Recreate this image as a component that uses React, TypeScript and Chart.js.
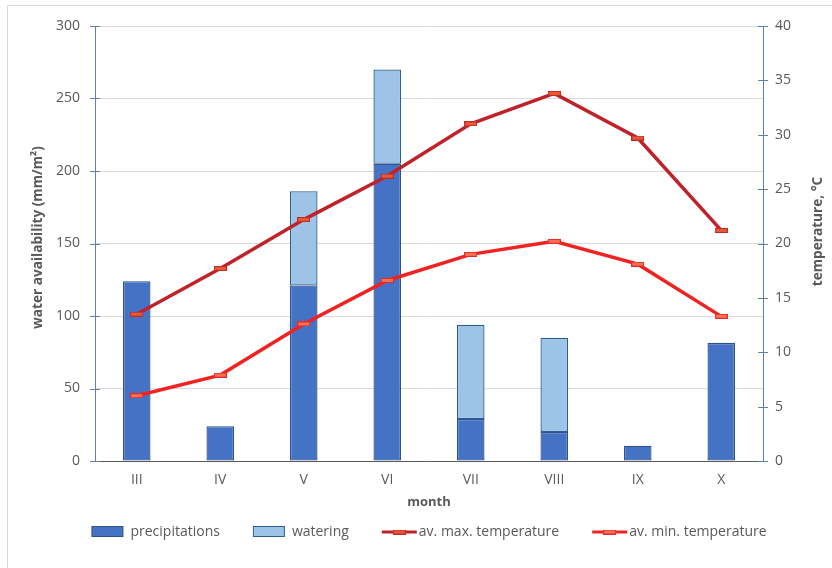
import React, { useEffect, useRef } from "react";
import { Chart, registerables } from "chart.js";

Chart.register(...registerables);

const months = ["III", "IV", "V", "VI", "VII", "VIII", "IX", "X"];
const precipitations = [124, 24, 121, 205, 29, 20, 10.5, 81.5];
const watering = [null, null, 65, 65, 65, 65, null, null];
const maxTemperature = [13.5, 17.7, 22.2, 26.2, 31.0, 33.8, 29.7, 21.2];
const minTemperature = [6.0, 7.9, 12.6, 16.6, 19.0, 20.2, 18.1, 13.3];

const leftTitle = "water availability (mm/m²)";
const rightTitle = "temperature, °C";
const xTitle = "month";

const FONT = "'Open Sans', 'Noto Sans', sans-serif";
const TEXT = "#595959";
const AXIS_BLUE = "#5B82B0";
const GRID = "#D9D9D9";

function makeMarker(fill: string, stroke: string) {
  const c = document.createElement("canvas");
  c.width = 13;
  c.height = 5;
  const g = c.getContext("2d")!;
  g.fillStyle = fill;
  g.fillRect(0.5, 0.5, 12, 4);
  g.strokeStyle = stroke;
  g.lineWidth = 1;
  g.strokeRect(0.5, 0.5, 12, 4);
  return c;
}

function titleFont(ctx: CanvasRenderingContext2D) {
  ctx.font = `bold 12px ${FONT}`;
  const w = ctx.measureText(leftTitle).width;
  const size = (12 * 183) / w;
  return `bold ${size.toFixed(2)}px ${FONT}`;
}

const decor = {
  id: "decor",
  beforeDraw(chart: any) {
    const { ctx } = chart;
    ctx.save();
    ctx.fillStyle = "#ffffff";
    ctx.fillRect(0, 0, chart.width, chart.height);
    ctx.strokeStyle = GRID;
    ctx.lineWidth = 1;
    ctx.strokeRect(7.5, 5.5, chart.width + 20, chart.height + 20);
    ctx.restore();
  },
  afterDraw(chart: any) {
    const { ctx, chartArea, scales } = chart;
    ctx.save();
    // crossing tick marks
    ctx.strokeStyle = AXIS_BLUE;
    ctx.lineWidth = 1;
    const ys = scales.y;
    ys.ticks.forEach((_: any, i: number) => {
      const py = Math.round(ys.getPixelForTick(i)) + 0.5;
      ctx.beginPath();
      ctx.moveTo(chartArea.left - 5, py);
      ctx.lineTo(chartArea.left + 5, py);
      ctx.stroke();
    });
    const y1 = scales.y1;
    y1.ticks.forEach((_: any, i: number) => {
      const py = Math.round(y1.getPixelForTick(i)) + 0.5;
      ctx.beginPath();
      ctx.moveTo(chartArea.right - 5, py);
      ctx.lineTo(chartArea.right + 5, py);
      ctx.stroke();
    });

    // axis titles (both read bottom-to-top)
    ctx.fillStyle = TEXT;
    ctx.textAlign = "center";
    ctx.textBaseline = "middle";
    const tf = titleFont(ctx);
    const midY = (chartArea.top + chartArea.bottom) / 2;
    ctx.save();
    ctx.font = tf;
    ctx.translate(38, midY - 6);
    ctx.rotate(-Math.PI / 2);
    ctx.fillText(leftTitle, 0, 0);
    ctx.restore();
    ctx.save();
    ctx.font = tf;
    ctx.translate(818, midY - 12);
    ctx.rotate(-Math.PI / 2);
    ctx.fillText(rightTitle, 0, 0);
    ctx.restore();

    // legend
    ctx.font = `14px ${FONT}`;
    ctx.textAlign = "left";
    const items = chart.data.datasets.map((ds: any) => {
      const isBar = ds.type === "bar";
      const sym = isBar ? 32 : 35;
      const gap = isBar ? 7 : 2;
      const tw = ctx.measureText(ds.label).width;
      return { ds, isBar, sym, gap, tw, w: sym + gap + tw };
    });
    const between = 33;
    const total = items.reduce((a: number, it: any) => a + it.w, 0) + between * (items.length - 1);
    let x = (chartArea.left + chartArea.right) / 2 - total / 2;
    const ly = 532;
    items.forEach((it: any) => {
      const ds = it.ds;
      if (it.isBar) {
        ctx.fillStyle = ds.backgroundColor;
        ctx.fillRect(x + 0.5, ly - 5.5, it.sym - 1, 10);
        ctx.strokeStyle = ds.borderColor;
        ctx.lineWidth = 1;
        ctx.strokeRect(x + 0.5, ly - 5.5, it.sym - 1, 10);
      } else {
        ctx.strokeStyle = ds.borderColor;
        ctx.lineWidth = 3;
        ctx.beginPath();
        ctx.moveTo(x, ly);
        ctx.lineTo(x + it.sym, ly);
        ctx.stroke();
        const img = ds.pointStyle as HTMLCanvasElement;
        ctx.drawImage(img, x + it.sym / 2 - img.width / 2, ly - img.height / 2);
      }
      ctx.fillStyle = TEXT;
      ctx.fillText(ds.label, x + it.sym + it.gap, ly);
      x += it.w + between;
    });
    ctx.restore();
  },
};

export default function App() {
  const ref = useRef<HTMLCanvasElement | null>(null);

  useEffect(() => {
    if (!ref.current) return;
    const maxMarker = makeMarker("#E8593B", "#C42A22");
    const minMarker = makeMarker("#F7704F", "#E8282A");
    const chart = new Chart(ref.current, {
      type: "bar",
      data: {
        labels: months,
        datasets: [
          {
            type: "bar",
            label: "precipitations",
            data: precipitations,
            backgroundColor: "#4472C4",
            borderColor: "#2F528F",
            borderWidth: 1.3,
            borderSkipped: false,
            yAxisID: "y",
            stack: "water",
            categoryPercentage: 1,
            barPercentage: 0.33,
            order: 2,
          },
          {
            type: "bar",
            label: "watering",
            data: watering,
            backgroundColor: "#9DC3E6",
            borderColor: "#2F5D8F",
            borderWidth: 1.3,
            borderSkipped: false,
            yAxisID: "y",
            stack: "water",
            categoryPercentage: 1,
            barPercentage: 0.33,
            order: 2,
          },
          {
            type: "line",
            label: "av. max. temperature",
            data: maxTemperature,
            borderColor: "#C0222A",
            borderWidth: 3.5,
            pointStyle: maxMarker,
            pointRadius: 6,
            tension: 0,
            fill: false,
            yAxisID: "y1",
            order: 1,
          },
          {
            type: "line",
            label: "av. min. temperature",
            data: minTemperature,
            borderColor: "#F02222",
            borderWidth: 3.5,
            pointStyle: minMarker,
            pointRadius: 6,
            tension: 0,
            fill: false,
            yAxisID: "y1",
            order: 1,
          },
        ] as any,
      },
      options: {
        responsive: false,
        animation: false,
        devicePixelRatio: 1,
        layout: { padding: { top: 26, left: 0, right: 0, bottom: 0 } },
        plugins: {
          legend: { display: false },
          tooltip: { enabled: false },
        },
        scales: {
          x: {
            stacked: true,
            grid: { display: false, drawTicks: false },
            border: { display: true, color: "#595959", width: 1 },
            ticks: { color: TEXT, padding: 11, font: { family: FONT, size: 14 } },
            title: {
              display: true,
              text: xTitle,
              color: TEXT,
              font: { family: FONT, size: 13, weight: "bold" },
              padding: { top: 0, bottom: 58 },
            },
            afterFit: (s: any) => {
              s.height = 107;
            },
          },
          y: {
            stacked: true,
            position: "left",
            min: 0,
            max: 300,
            ticks: { stepSize: 50, color: TEXT, padding: 15, font: { family: FONT, size: 14 } },
            grid: { color: GRID, lineWidth: 1, drawTicks: false },
            border: { display: true, color: AXIS_BLUE, width: 1 },
            afterFit: (s: any) => {
              s.width = 95;
            },
          },
          y1: {
            position: "right",
            stacked: false,
            min: 0,
            max: 40,
            ticks: { stepSize: 5, color: TEXT, padding: 12, font: { family: FONT, size: 14 } },
            grid: { drawOnChartArea: false, drawTicks: false },
            border: { display: true, color: AXIS_BLUE, width: 1 },
            afterFit: (s: any) => {
              s.width = 69;
            },
          },
        },
      } as any,
      plugins: [decor],
    });
    return () => chart.destroy();
  }, []);

  return (
    <div style={{ position: "absolute", left: 0, top: 0, width: 832, height: 568 }}>
      <canvas ref={ref} width={832} height={568} />
    </div>
  );
}
